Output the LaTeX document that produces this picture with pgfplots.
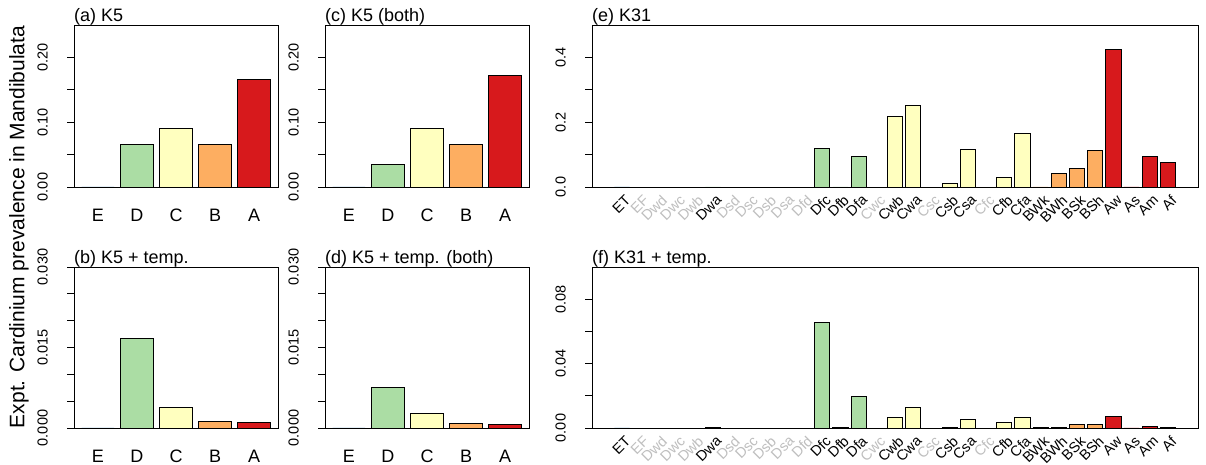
\documentclass[border=0pt]{standalone}
\usepackage{fontspec}
\setmainfont{Liberation Sans}
\usepackage{pgfplots}
\pgfplotsset{compat=1.18}
\definecolor{cE}{HTML}{2B83BA}
\definecolor{cD}{HTML}{ABDDA4}
\definecolor{cC}{HTML}{FFFFBF}
\definecolor{cB}{HTML}{FDAE61}
\definecolor{cA}{HTML}{D7191C}
\definecolor{lg}{HTML}{BEBEBE}
\newcommand\tck{\fontsize{14.5}{16}\selectfont}
\newcommand\ttl{\fontsize{18}{20}\selectfont}
\newcommand\cat{\fontsize{18}{20}\selectfont}
\newcommand\catb{\fontsize{14.5}{16}\selectfont}
\newcommand\ylab{\fontsize{21}{23}\selectfont}
\newcommand\g[1]{\textcolor{lg}{#1}}
\pgfplotsset{
  bb/.style={ybar, bar width=1, bar shift=0pt, draw=black, line width=0.9pt},
  panel/.style={
    scale only axis, anchor=south west,
    axis line style={line width=0.9pt},
    tick align=outside, ytick pos=left, xtick pos=bottom,
    major tick length=7pt,
    every tick/.style={black, line width=0.8pt},
    xtick style={draw=none},
    scaled y ticks=false,
    ymin=0,
    every axis title/.style={at={(0,1)}, anchor=base west, inner sep=0pt, yshift=3pt, font=\ttl},
    yticklabel style={font=\tck, inner sep=0pt, anchor=south, xshift=-19pt, rotate=90},
  },
  k5/.style={panel, width=204pt, height=162pt, xmin=-0.032, xmax=6.232,
    xtick={0.7,1.9,3.1,4.3,5.5}, xticklabels={E,D,C,B,A},
    xticklabel style={font=\cat, inner sep=0pt, anchor=north, yshift=-14.5pt}},
  k31/.style={panel, width=606pt, height=162pt, xmin=-1.28, xmax=38.68,
    xtick={0.7,1.9,3.1,4.3,5.5,6.7,7.9,9.1,10.3,11.5,12.7,13.9,15.1,16.3,17.5,18.7,19.9,21.1,22.3,23.5,24.7,25.9,27.1,28.3,29.5,30.7,31.9,33.1,34.3,35.5,36.7},
    xticklabels={ET,\g{EF},\g{Dwd},\g{Dwc},\g{Dwb},Dwa,\g{Dsd},\g{Dsc},\g{Dsb},\g{Dsa},\g{Dfd},Dfc,Dfb,Dfa,\g{Cwc},Cwb,Cwa,\g{Csc},Csb,Csa,\g{Cfc},Cfb,Cfa,BWk,BWh,BSk,BSh,Aw,As,Am,Af},
    xticklabel style={font=\catb, inner sep=0pt, anchor=east, xshift=6pt, yshift=-3.5pt, rotate=45}},
}
\begin{document}
\begin{tikzpicture}
\useasboundingbox (0,0) rectangle (1206pt,465pt);
% (a)
\begin{axis}[k5, at={(74pt,278pt)}, title={(a) K5}, ymax=0.25,
  ytick={0,0.05,0.1,0.15,0.2}, yticklabels={0.00,,0.10,,0.20}]
\addplot[bb, fill=cE] coordinates {(0.7,0)};
\addplot[bb, fill=cD] coordinates {(1.9,0.0656)};
\addplot[bb, fill=cC] coordinates {(3.1,0.0899)};
\addplot[bb, fill=cB] coordinates {(4.3,0.0661)};
\addplot[bb, fill=cA] coordinates {(5.5,0.1659)};
\end{axis}
% (c)
\begin{axis}[k5, at={(325pt,278pt)}, title={(c) K5 (both)}, ymax=0.25,
  ytick={0,0.05,0.1,0.15,0.2}, yticklabels={0.00,,0.10,,0.20}]
\addplot[bb, fill=cE] coordinates {(0.7,0)};
\addplot[bb, fill=cD] coordinates {(1.9,0.0341)};
\addplot[bb, fill=cC] coordinates {(3.1,0.0899)};
\addplot[bb, fill=cB] coordinates {(4.3,0.0651)};
\addplot[bb, fill=cA] coordinates {(5.5,0.1716)};
\end{axis}
% (b)
\begin{axis}[k5, at={(74pt,37pt)}, height=161pt, title={(b) K5 + temp.}, ymax=0.03,
  ytick={0,0.005,0.01,0.015,0.02,0.025,0.03}, yticklabels={0.000,,,0.015,,,0.030}]
\addplot[bb, fill=cE] coordinates {(0.7,0)};
\addplot[bb, fill=cD] coordinates {(1.9,0.01665)};
\addplot[bb, fill=cC] coordinates {(3.1,0.00385)};
\addplot[bb, fill=cB] coordinates {(4.3,0.00124)};
\addplot[bb, fill=cA] coordinates {(5.5,0.00099)};
\end{axis}
% (d)
\begin{axis}[k5, at={(325pt,37pt)}, height=161pt, title={(d) K5 + temp. (both)}, ymax=0.03,
  ytick={0,0.005,0.01,0.015,0.02,0.025,0.03}, yticklabels={0.000,,,0.015,,,0.030}]
\addplot[bb, fill=cE] coordinates {(0.7,0)};
\addplot[bb, fill=cD] coordinates {(1.9,0.00764)};
\addplot[bb, fill=cC] coordinates {(3.1,0.0028)};
\addplot[bb, fill=cB] coordinates {(4.3,0.00087)};
\addplot[bb, fill=cA] coordinates {(5.5,0.00068)};
\end{axis}
% (e)
\begin{axis}[k31, at={(592pt,278pt)}, title={(e) K31}, ymax=0.5,
  ytick={0,0.1,0.2,0.3,0.4}, yticklabels={0.0,,0.2,,0.4}]
\addplot[bb, fill=cE] coordinates {(0.7,0)};
\addplot[bb, fill=cD] coordinates {(6.7,0) (13.9,0.118) (15.1,0) (16.3,0.093)};
\addplot[bb, fill=cC] coordinates {(18.7,0.218) (19.9,0.251) (22.3,0.010) (23.5,0.117) (25.9,0.029) (27.1,0.164)};
\addplot[bb, fill=cB] coordinates {(28.3,0) (29.5,0.041) (30.7,0.056) (31.9,0.112)};
\addplot[bb, fill=cA] coordinates {(33.1,0.424) (34.3,0) (35.5,0.094) (36.7,0.076)};
\end{axis}
% (f)
\begin{axis}[k31, at={(592pt,37pt)}, height=161pt, title={(f) K31 + temp.}, ymax=0.1,
  ytick={0,0.02,0.04,0.06,0.08}, yticklabels={0.00,,0.04,,0.08}]
\addplot[bb, fill=cE] coordinates {(0.7,0)};
\addplot[bb, fill=cD] coordinates {(6.7,0.0001) (13.9,0.0655) (15.1,0.0002) (16.3,0.0193)};
\addplot[bb, fill=cC] coordinates {(18.7,0.0068) (19.9,0.0125) (22.3,0.0006) (23.5,0.0054) (25.9,0.0037) (27.1,0.0065)};
\addplot[bb, fill=cB] coordinates {(28.3,0.0001) (29.5,0.0004) (30.7,0.0020) (31.9,0.0024)};
\addplot[bb, fill=cA] coordinates {(33.1,0.0069) (34.3,0) (35.5,0.0010) (36.7,0.0006)};
\end{axis}
\node[rotate=90, font=\ylab] at (19pt,238pt) {Expt. Cardinium prevalence in Mandibulata};
\end{tikzpicture}
\end{document}
